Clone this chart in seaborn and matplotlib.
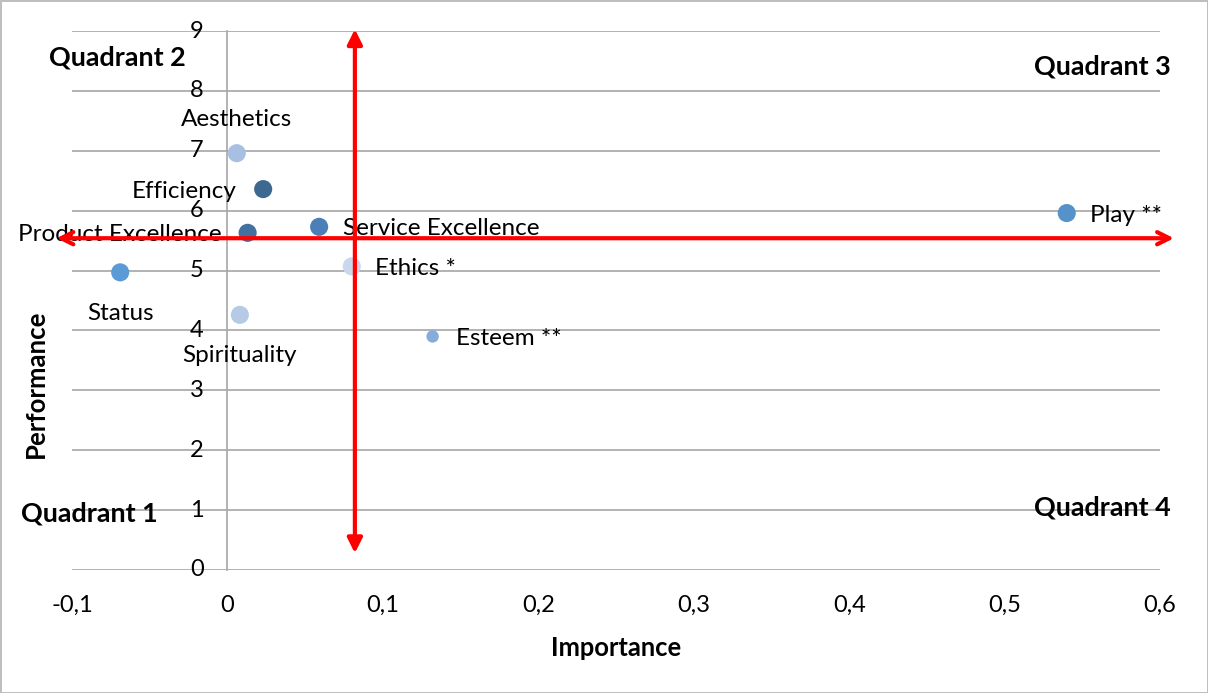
import matplotlib
matplotlib.use("Agg")
import matplotlib.pyplot as plt
import seaborn as sns
import pandas as pd

# Attribute scores: importance (x) vs. performance (y)
attributes = ["Aesthetics", "Efficiency", "Product Excellence", "Service Excellence",
              "Status", "Ethics *", "Spirituality", "Esteem **", "Play **"]
importance = [0.006, 0.023, 0.013, 0.059, -0.069, 0.080, 0.008, 0.132, 0.540]
performance = [6.96, 6.36, 5.63, 5.73, 4.97, 5.07, 4.26, 3.90, 5.96]
colors = ["#a7c0e2", "#3d6991", "#42709f", "#4a80b7", "#5b9bd5",
          "#c9d8ec", "#b5cae7", "#86acdc", "#5592c9"]
marker_sizes = [170, 170, 170, 170, 170, 170, 170, 80, 170]
label_side = ["top", "left", "left", "right", "bottom", "right", "bottom", "right", "right"]

# Quadrant dividers
importance_cut = 0.082
performance_cut = 5.54

x_ticks = [-0.1, 0, 0.1, 0.2, 0.3, 0.4, 0.5, 0.6]
x_tick_labels = ["-0,1", "0", "0,1", "0,2", "0,3", "0,4", "0,5", "0,6"]
y_ticks = list(range(0, 10))

quadrants = ["Quadrant 1", "Quadrant 2", "Quadrant 3", "Quadrant 4"]
quadrant_pos = [(-0.089, 0.95), (-0.0707, 8.55), (0.563, 8.41), (0.563, 1.05)]

df = pd.DataFrame({"attribute": attributes, "importance": importance,
                   "performance": performance})

sns.set_theme(style="white")
plt.rcParams["font.family"] = ["Lato", "DejaVu Sans"]

fig = plt.figure(figsize=(12.08, 6.93), dpi=100)
fig.patch.set_edgecolor("#bfbfbf")
fig.patch.set_linewidth(2)
ax = fig.add_axes([72 / 1208, 1 - 570 / 693, (1160 - 72) / 1208, (570 - 31) / 693])

ax.set_xlim(-0.1, 0.6)
ax.set_ylim(0, 9)

# Horizontal gridlines and the vertical axis at x = 0
ax.set_yticks(y_ticks)
ax.yaxis.grid(True, color="#a6a6a6", linewidth=1.2)
ax.set_axisbelow(True)
for s in ["top", "right", "bottom"]:
    ax.spines[s].set_visible(False)
ax.spines["left"].set_position(("data", 0))
ax.spines["left"].set_color("#a6a6a6")
ax.spines["left"].set_linewidth(1.2)
ax.tick_params(axis="y", length=0, pad=17, labelsize=17, labelcolor="black")
ax.tick_params(axis="x", length=0, pad=18, labelsize=17, labelcolor="black")
ax.set_xticks(x_ticks)
ax.set_xticklabels(x_tick_labels)
for lbl in ax.get_yticklabels():
    lbl.set_verticalalignment("center")

sns.scatterplot(data=df, x="importance", y="performance", hue="attribute",
                palette=dict(zip(attributes, colors)), size="attribute",
                sizes=dict(zip(attributes, marker_sizes)), linewidth=0,
                legend=False, ax=ax, zorder=3)

offsets = {"top": ((0, 17), "center", "bottom"),
           "bottom": ((0, -22), "center", "top"),
           "left": ((-19, -1.5), "right", "center"),
           "right": ((17, -1.5), "left", "center")}
for name, x, y, side in zip(attributes, importance, performance, label_side):
    off, ha, va = offsets[side]
    ax.annotate(name, (x, y), xytext=off, textcoords="offset points",
                ha=ha, va=va, fontsize=17.5, color="black", zorder=4)

# Quadrant divider arrows
ax.annotate("", xy=(importance_cut, 9.03), xytext=(importance_cut, 0.28),
            arrowprops=dict(arrowstyle="<|-|>", color="#ff0000", lw=3,
                            mutation_scale=22, shrinkA=0, shrinkB=0),
            annotation_clip=False, zorder=5)
ax.annotate("", xy=(0.609, performance_cut), xytext=(-0.11, performance_cut),
            arrowprops=dict(arrowstyle="<->", color="#ff0000", lw=3,
                            mutation_scale=22, shrinkA=0, shrinkB=0),
            annotation_clip=False, zorder=5)

for q, (qx, qy) in zip(quadrants, quadrant_pos):
    ax.text(qx, qy, q, ha="center", va="center", fontsize=19.4,
            fontweight="bold", color="black", clip_on=False)

ax.set_xlabel("Importance", fontsize=18.4, fontweight="bold", color="black")
ax.set_ylabel("Performance", fontsize=18.5, fontweight="bold", color="black")
ax.xaxis.set_label_coords(0.5, -0.122)
ax.yaxis.set_label_coords(-0.022, 0.345)

fig.savefig("out.png", dpi=100, edgecolor=fig.get_edgecolor())
